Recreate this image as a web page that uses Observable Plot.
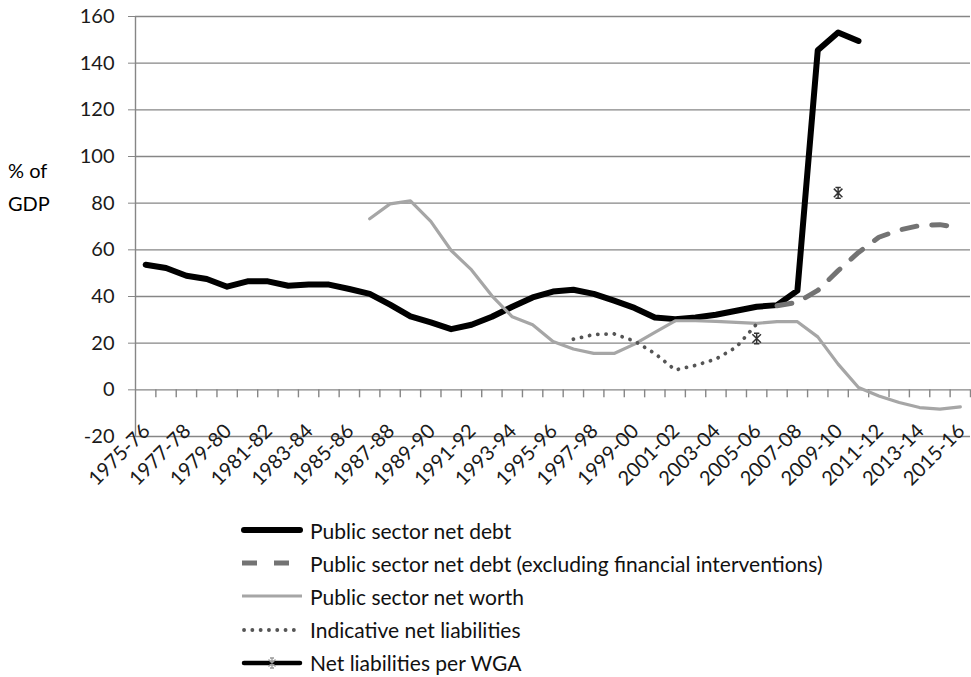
<!DOCTYPE html>
<html><head><meta charset="utf-8">
<script src="https://cdn.jsdelivr.net/npm/d3@7"></script>
<script src="https://cdn.jsdelivr.net/npm/@observablehq/plot@0.6"></script>
<style>
body{margin:0;background:#fff;font-family:Lato,sans-serif;}
#wrap{position:relative;width:971px;height:677px;overflow:hidden;}
#ylab{position:absolute;left:8px;top:154px;font-size:20px;line-height:33px;color:#000;}
.row{position:absolute;left:241px;height:33px;display:flex;align-items:center;font-size:21px;color:#111;white-space:nowrap;}
.row svg{margin-right:7px;flex:none;}
</style></head><body>
<div id="wrap"><div id="chart"></div><div id="ylab">% of<br>GDP</div><div id="legend"></div></div>
<script>
const categories = ["1975-76","1976-77","1977-78","1978-79","1979-80","1980-81","1981-82","1982-83","1983-84","1984-85","1985-86","1986-87","1987-88","1988-89","1989-90","1990-91","1991-92","1992-93","1993-94","1994-95","1995-96","1996-97","1997-98","1998-99","1999-00","2000-01","2001-02","2002-03","2003-04","2004-05","2005-06","2006-07","2007-08","2008-09","2009-10","2010-11","2011-12","2012-13","2013-14","2014-15","2015-16"];
const N = null;
const netDebt = [53.6,52.2,48.9,47.5,44.2,46.5,46.5,44.6,45.1,45.1,43.2,41.1,36.5,31.5,28.9,26.0,27.9,31.3,35.6,39.6,42.1,42.9,41.1,38.2,35.1,31.0,30.3,31.0,32.2,33.9,35.6,36.3,42.5,145.5,153.1,149.5,N,N,N,N,N];
const netDebtExFI = [N,N,N,N,N,N,N,N,N,N,N,N,N,N,N,N,N,N,N,N,N,N,N,N,N,N,N,N,N,N,N,36.0,37.5,42.6,51.1,58.9,65.4,68.5,70.4,70.8,69.4];
const netWorth = [N,N,N,N,N,N,N,N,N,N,N,73.3,79.7,81.0,72.2,59.7,51.4,40.3,31.3,27.9,20.7,17.5,15.6,15.6,19.6,24.6,29.6,29.6,29.3,28.9,28.5,29.2,29.2,22.7,11.0,1.0,-2.6,-5.4,-7.6,-8.3,-7.3];
const indicative = [N,N,N,N,N,N,N,N,N,N,N,N,N,N,N,N,N,N,N,N,N,21.7,23.7,24.0,20.9,15.6,8.5,10.5,13.2,18.3,28.2,N,N,N,N,N,N,N,N,N,N];
const wga = [N,N,N,N,N,N,N,N,N,N,N,N,N,N,N,N,N,N,N,N,N,N,N,N,N,N,N,N,N,N,22.0,N,N,N,84.4,N,N,N,N,N,N];
const yTicks = [-20,0,20,40,60,80,100,120,140,160];
const seriesNames = ["Public sector net debt","Public sector net debt (excluding financial interventions)","Public sector net worth","Indicative net liabilities","Net liabilities per WGA"];

const data = categories.map((c, i) => ({i, c, netDebt: netDebt[i], exFI: netDebtExFI[i], netWorth: netWorth[i], indicative: indicative[i], wga: wga[i]}));
const boundaries = d3.range(1, categories.length + 1).map(k => k - 0.5);
const labelIdx = d3.range(categories.length).filter(i => i % 2 === 0);
const grid = "#868686";

// custom "star" marker (x with vertical bar), like the spreadsheet marker
const starSymbol = {
  draw(ctx, size) {
    const r = Math.sqrt(size) * 0.55;
    ctx.moveTo(0, -r); ctx.lineTo(0, r);
    ctx.moveTo(-r * 0.8, -r * 0.8); ctx.lineTo(r * 0.8, r * 0.8);
    ctx.moveTo(-r * 0.8, r * 0.8); ctx.lineTo(r * 0.8, -r * 0.8);
    ctx.moveTo(-r * 0.5, -r); ctx.lineTo(r * 0.5, -r);
    ctx.moveTo(-r * 0.5, r); ctx.lineTo(r * 0.5, r);
  }
};

const plot = Plot.plot({
  width: 971, height: 500,
  marginLeft: 135, marginRight: 1, marginTop: 16, marginBottom: 64,
  x: {type: "linear", domain: [-0.5, categories.length - 0.5], axis: null},
  y: {domain: [-20, 160], axis: null},
  style: {fontFamily: "Lato, sans-serif", background: "#fff", overflow: "visible"},
  marks: [
    Plot.ruleY(yTicks, {stroke: grid, strokeWidth: 1.4}),
    Plot.ruleX([-0.5], {stroke: grid, strokeWidth: 1.4}),
    Plot.ruleX(boundaries, {x: d => d, y1: () => 0, y2: () => 0, insetBottom: -8, stroke: grid, strokeWidth: 1.4}),
    Plot.axisY({ticks: yTicks, tickFormat: d => String(d), tickSize: 7, tickPadding: 14, fontSize: 20, stroke: grid, fill: "#1a1a1a", label: null}),
    Plot.line(data, {x: "i", y: "netDebt", stroke: "#000", strokeWidth: 6, strokeLinejoin: "round", strokeLinecap: "round"}),
    Plot.line(data, {x: "i", y: "exFI", stroke: "#737373", strokeWidth: 5, strokeDasharray: "15,15"}),
    Plot.line(data, {x: "i", y: "netWorth", stroke: "#a6a6a6", strokeWidth: 3.2, strokeLinejoin: "round"}),
    Plot.line(data, {x: "i", y: "indicative", stroke: "#555", strokeWidth: 3.8, strokeDasharray: "0.1,8.2", strokeLinecap: "round"}),
    Plot.dot(data.filter(d => d.wga != null), {x: "i", y: "wga", symbol: starSymbol, r: 5.5, stroke: "#333", strokeWidth: 1.5}),
    Plot.text(labelIdx, {x: d => d, y: () => 0, text: d => categories[d], rotate: -45, textAnchor: "end", dx: 1, dy: 38, fontSize: 20, fill: "#1a1a1a", lineAnchor: "middle"})
  ]
});
document.getElementById("chart").appendChild(plot);

const legendStyles = [
  {stroke: "#000", w: 6, dash: null, cap: "round"},
  {stroke: "#737373", w: 5, dash: "15,17", cap: "butt"},
  {stroke: "#a6a6a6", w: 3.2, dash: null, cap: "butt"},
  {stroke: "#555", w: 3.8, dash: "0.1,8.2", cap: "round"},
  {stroke: "#000", w: 4.5, dash: null, cap: "round", marker: true}
];
const legend = document.getElementById("legend");
seriesNames.forEach((name, k) => {
  const s = legendStyles[k];
  const row = document.createElement("div");
  row.className = "row";
  row.style.top = (513.5 + k * 33.2) + "px";
  let svg = `<svg width="62" height="16"><line x1="${s.cap==="round"?3:1}" x2="${s.cap==="round"?59:61}" y1="8" y2="8" stroke="${s.stroke}" stroke-width="${s.w}" stroke-linecap="${s.cap}"${s.dash ? ` stroke-dasharray="${s.dash}"` : ""}/>`;
  if (s.marker) svg += `<path d="M31,3V13M27.5,4.5L34.5,11.5M27.5,11.5L34.5,4.5M29,3H33M29,13H33" stroke="#999" stroke-width="1.3" fill="none"/>`;
  svg += `</svg>`;
  row.innerHTML = svg + `<span>${name}</span>`;
  legend.appendChild(row);
});
</script>
</body></html>
